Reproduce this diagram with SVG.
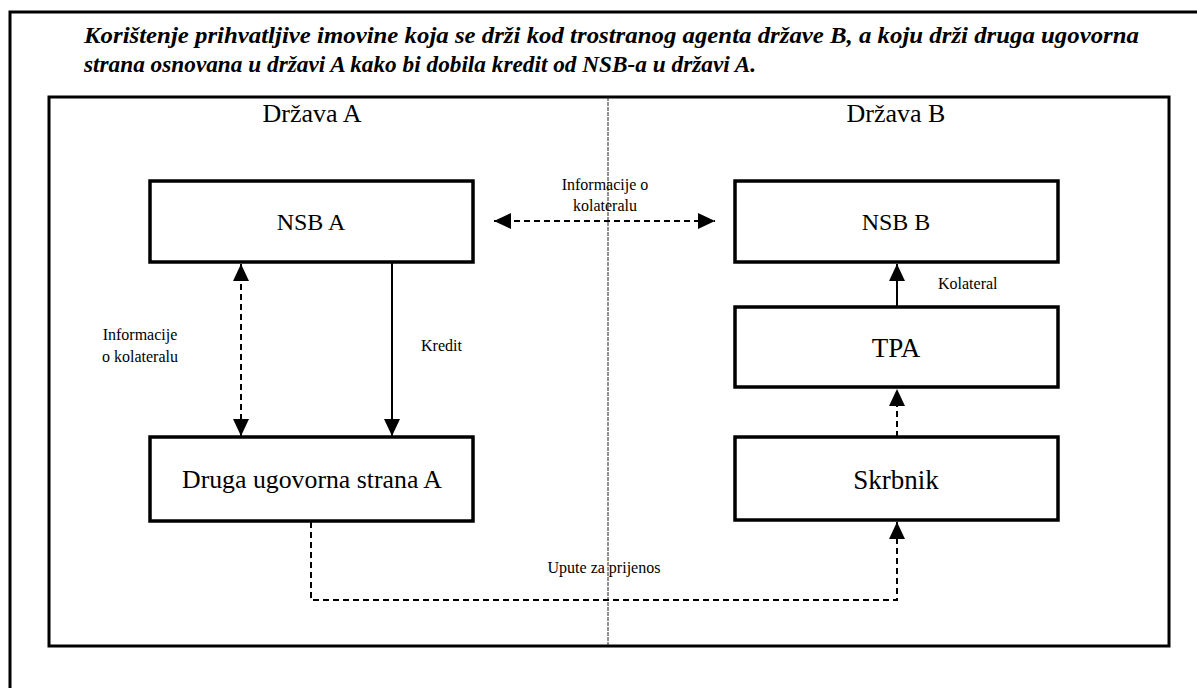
<svg xmlns="http://www.w3.org/2000/svg" width="1197" height="688" viewBox="0 0 1197 688">
<style>
.title{font-size:23px;font-weight:bold;font-style:italic}
.big{font-size:23px;text-anchor:middle}
.lbl{font-size:16px}
.box{fill:#fff;stroke:#000;stroke-width:3.5}
.frame{fill:none;stroke:#000;stroke-width:3}
.solid{fill:none;stroke:#000;stroke-width:2}
.dash{fill:none;stroke:#000;stroke-width:2;stroke-dasharray:6,4}
</style>
<defs>
<marker id="ah" markerUnits="userSpaceOnUse" markerWidth="18" markerHeight="18" refX="17" refY="8" orient="auto-start-reverse">
<path d="M0,0 L17,8 L0,16 z" fill="#000"/>
</marker>
</defs>
<rect width="1197" height="688" fill="#fff"/>
<g font-family="'Liberation Serif', 'DejaVu Serif', 'Times New Roman', serif" fill="#000">
<g id="frame">
<path class="frame" d="M10,700 V12 H1200"/>
<text class="title" x="84" y="43" textLength="1055" lengthAdjust="spacingAndGlyphs">Korištenje prihvatljive imovine koja se drži kod trostranog agenta države B, a koju drži druga ugovorna</text>
<text class="title" x="84" y="72" textLength="672" lengthAdjust="spacingAndGlyphs">strana osnovana u državi A kako bi dobila kredit od NSB-a u državi A.</text>
<rect class="frame" x="49" y="97" width="1120" height="549"/>
<line x1="608" y1="97" x2="608" y2="646" stroke="#222" stroke-width="1" stroke-dasharray="4,1"/>
<text class="big" x="312" y="122" style="font-size:26px">Država A</text>
<text class="big" x="896" y="122" style="font-size:26px">Država B</text>
</g>
<g id="nsbA"><rect class="box" x="150" y="181" width="323" height="81"/><text class="big" x="311" y="230" style="font-size:24px">NSB A</text></g>
<g id="nsbB"><rect class="box" x="735" y="181" width="323" height="81"/><text class="big" x="896" y="230" style="font-size:24px">NSB B</text></g>
<g id="tpa"><rect class="box" x="735" y="307" width="323" height="80"/><text class="big" x="896" y="357" style="font-size:27px">TPA</text></g>
<g id="skrbnik"><rect class="box" x="735" y="437" width="323" height="83"/><text class="big" x="896" y="489" style="font-size:27px">Skrbnik</text></g>
<g id="druga"><rect class="box" x="150" y="437" width="323" height="84"/><text class="big" x="312" y="488" style="font-size:25px" textLength="260" lengthAdjust="spacingAndGlyphs">Druga ugovorna strana A</text></g>
<g id="connectors">
<line class="dash" x1="494" y1="221" x2="715" y2="221" marker-start="url(#ah)" marker-end="url(#ah)"/>
<line class="dash" x1="241" y1="264" x2="241" y2="436" marker-start="url(#ah)" marker-end="url(#ah)"/>
<line class="solid" x1="392" y1="262" x2="392" y2="436" marker-end="url(#ah)"/>
<line class="solid" x1="897" y1="307" x2="897" y2="264" marker-end="url(#ah)"/>
<line class="dash" x1="897" y1="437" x2="897" y2="389" marker-end="url(#ah)"/>
<path class="dash" d="M311,522 V600 H897 V522" marker-end="url(#ah)"/>
<text class="lbl" x="605" y="190" text-anchor="middle">Informacije o</text>
<text class="lbl" x="605" y="211" text-anchor="middle">kolateralu</text>
<text class="lbl" x="140" y="340" text-anchor="middle">Informacije</text>
<text class="lbl" x="140" y="362" text-anchor="middle">o kolateralu</text>
<text class="lbl" x="421" y="351">Kredit</text>
<text class="lbl" x="938" y="289">Kolateral</text>
<text class="lbl" x="604" y="573" text-anchor="middle">Upute za prijenos</text>
</g>
</g>
</svg>
